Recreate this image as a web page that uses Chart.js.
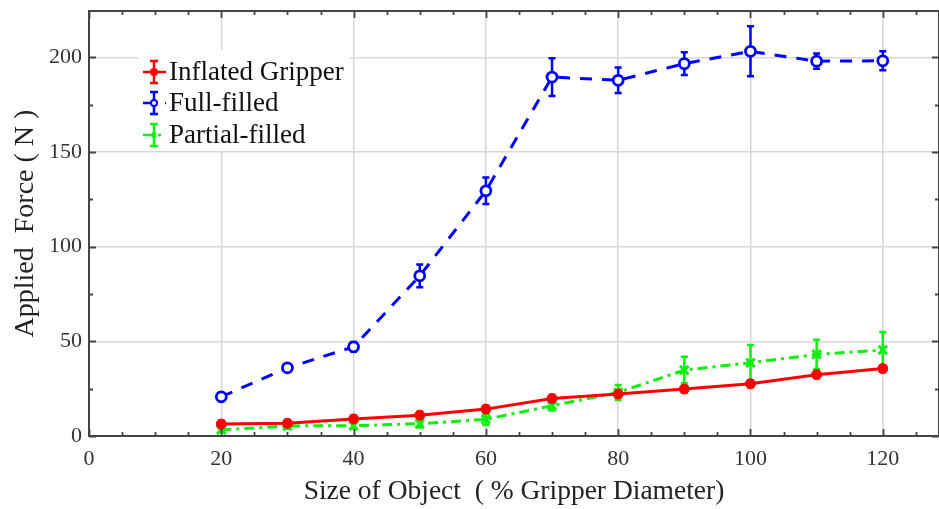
<!DOCTYPE html>
<html><head><meta charset="utf-8">
<script src="https://cdn.jsdelivr.net/npm/chart.js@4/dist/chart.umd.min.js"></script>
<style>html,body{margin:0;padding:0;background:#fff;overflow:hidden}#wrap{width:939px;height:509px;position:relative}</style>
</head><body><div id="wrap"><canvas id="c" width="939" height="509"></canvas></div>
<script>
const sizes=[20,30,40,50,60,70,80,90,100,110,120];
const inflated=[6.3,6.7,9.0,11,14.2,19.8,22.2,24.8,27.6,32.4,35.6];
const inflatedErr=[1.8,1.8,1.8,1.8,1.8,1.8,1.8,1.8,1.8,1.8,1.8];
const full=[20.7,36,47.1,84.6,129.5,189.6,187.9,196.7,203.2,198,198.2];
const fullErr=[1.5,1.5,2.5,6,7,10,6.7,6,13.2,4,5];
const partial=[3.2,5.3,5.5,6.5,8.8,16,23,34.8,38.7,43.1,45.4];
const partialErr=[1,1.5,1.5,2,3,2.5,4,7,9.4,7.7,9.5];
const xTicks=[0,20,40,60,80,100,120];
const yTicks=[0,50,100,150,200];
const labels=['Inflated Gripper','Full-filled','Partial-filled'];
const errs=[inflatedErr,fullErr,partialErr];

const SERIF='"Liberation Serif","Times New Roman",serif';
const AX='#444';

function pts(arr){return sizes.map((x,i)=>({x:x,y:arr[i]}));}

const errorBars={
  id:'errorBars',
  beforeDatasetsDraw(chart){
    const ctx=chart.ctx,xs=chart.scales.x,ys=chart.scales.y;
    chart.data.datasets.forEach((ds,i)=>{
      const e=errs[i];
      ctx.save();
      ctx.strokeStyle=ds.borderColor;ctx.lineWidth=2.5;ctx.setLineDash([]);
      ds.data.forEach((p,j)=>{
        const x=xs.getPixelForValue(p.x);
        const y1=ys.getPixelForValue(p.y+e[j]);
        const y2=ys.getPixelForValue(p.y-e[j]);
        ctx.beginPath();
        ctx.moveTo(x,y1);ctx.lineTo(x,y2);
        ctx.moveTo(x-3.5,y1);ctx.lineTo(x+3.5,y1);
        ctx.moveTo(x-3.5,y2);ctx.lineTo(x+3.5,y2);
        ctx.stroke();
      });
      ctx.restore();
    });
  }
};

const frame={
  id:'frame',
  afterDraw(chart){
    const ctx=chart.ctx,a=chart.chartArea,xs=chart.scales.x,ys=chart.scales.y;
    ctx.save();
    ctx.strokeStyle=AX;ctx.lineWidth=2;
    ctx.beginPath();
    ctx.moveTo(a.left,a.top);ctx.lineTo(a.right,a.top);ctx.lineTo(a.right,a.bottom);
    ctx.stroke();
    ctx.lineWidth=1.8;
    ctx.beginPath();
    for(let v=0;v<=xs.max;v+=5){
      const x=Math.round(xs.getPixelForValue(v))+0.5;
      const L=(v%20===0)?7:4;
      ctx.moveTo(x,a.bottom);ctx.lineTo(x,a.bottom-L);
      ctx.moveTo(x,a.top);ctx.lineTo(x,a.top+L);
    }
    for(let v=0;v<=ys.max;v+=25){
      const y=Math.round(ys.getPixelForValue(v))+0.5;
      const L=(v%50===0)?7:4;
      ctx.moveTo(a.left,y);ctx.lineTo(a.left+L,y);
      ctx.moveTo(a.right,y);ctx.lineTo(a.right-L,y);
    }
    ctx.stroke();
    // legend
    const lx=138,ly=50,lw=212,lh=100;
    ctx.fillStyle='#fff';ctx.fillRect(lx,ly,lw,lh);
    const rows=[72,103,135];
    chart.data.datasets.forEach((ds,i)=>{
      const y=rows[i];
      ctx.strokeStyle=ds.borderColor;ctx.lineWidth=2.5;
      ctx.setLineDash(ds.borderDash||[]);
      ctx.beginPath();ctx.moveTo(143,y);ctx.lineTo(166,y);ctx.stroke();
      ctx.setLineDash([]);
      ctx.beginPath();ctx.moveTo(154,y-11);ctx.lineTo(154,y+11);
      ctx.moveTo(150,y-11);ctx.lineTo(158,y-11);
      ctx.moveTo(150,y+11);ctx.lineTo(158,y+11);
      ctx.stroke();
      ctx.fillStyle=ds.pointBackgroundColor;ctx.strokeStyle=ds.borderColor;ctx.lineWidth=2;
      Chart.helpers.drawPoint(ctx,{pointStyle:ds.pointStyle,radius:3,rotation:0,borderWidth:2},154,y);
      ctx.fillStyle='#111';ctx.font='27px '+SERIF;ctx.textBaseline='middle';ctx.textAlign='left';
      ctx.fillText(labels[i],169,y+1);
    });
    ctx.restore();
  }
};

new Chart(document.getElementById('c'),{
  type:'line',
  data:{datasets:[
    {label:labels[0],data:pts(inflated),borderColor:'#ff0000',backgroundColor:'#ff0000',pointBackgroundColor:'#ff0000',
     borderWidth:3,pointStyle:'circle',pointRadius:5,pointBorderWidth:1,tension:0},
    {label:labels[1],data:pts(full),borderColor:'#0000ff',backgroundColor:'#ffffff',pointBackgroundColor:'#ffffff',
     borderWidth:3,borderDash:[12,10],pointStyle:'circle',pointRadius:5,pointBorderWidth:2.8,tension:0},
    {label:labels[2],data:pts(partial),borderColor:'#11ee11',backgroundColor:'#11ee11',pointBackgroundColor:'#11ee11',
     borderWidth:3,borderDash:[10,5,3,5],pointStyle:'crossRot',pointRadius:6,pointBorderWidth:3,tension:0}
  ]},
  options:{
    responsive:false,animation:false,devicePixelRatio:1,
    layout:{autoPadding:false,padding:{left:0,right:0,top:11,bottom:0}},
    plugins:{legend:{display:false},tooltip:{enabled:false}},
    scales:{
      x:{type:'linear',min:0,max:128.5,
        afterBuildTicks:s=>{s.ticks=xTicks.map(v=>({value:v}));},
        afterFit:s=>{s.height=73;s.paddingLeft=0;s.paddingRight=0;},
        ticks:{font:{family:SERIF,size:22},color:'#333',padding:10,maxRotation:0,autoSkip:false},
        grid:{color:'#d8d8d8',lineWidth:1.5,drawTicks:false},
        border:{color:AX,width:2},
        title:{display:true,text:'Size of Object  ( % Gripper Diameter)',font:{family:SERIF,size:27.5},color:'#222',padding:1}
      },
      y:{type:'linear',min:0,max:224.5,
        afterBuildTicks:s=>{s.ticks=yTicks.map(v=>({value:v}));},
        afterFit:s=>{s.width=89;s.paddingTop=0;s.paddingBottom=0;},
        ticks:{font:{family:SERIF,size:22},color:'#333',padding:7,autoSkip:false},
        grid:{color:'#d8d8d8',lineWidth:1.5,drawTicks:false},
        border:{color:AX,width:2},
        title:{display:true,text:'Applied  Force ( N )',font:{family:SERIF,size:28},color:'#222',padding:9}
      }
    }
  },
  plugins:[errorBars,frame]
});
</script></body></html>
